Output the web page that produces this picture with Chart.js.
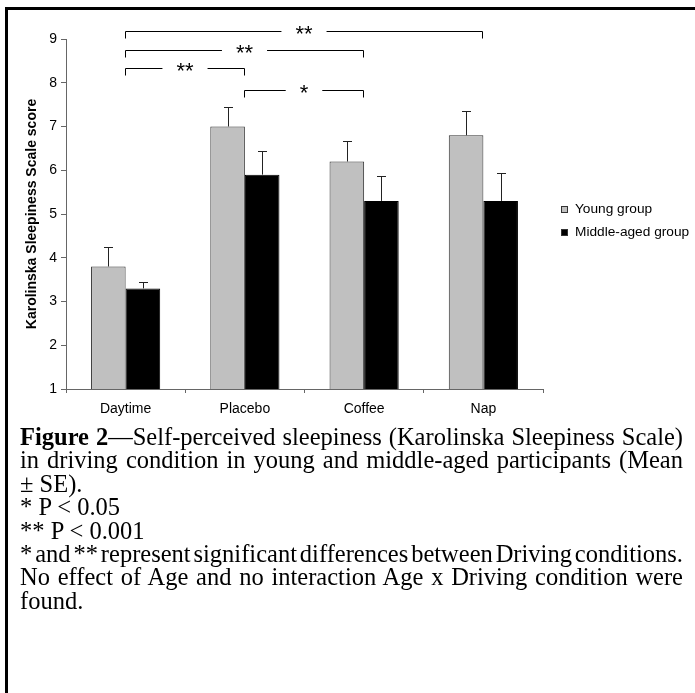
<!DOCTYPE html>
<html><head><meta charset="utf-8">
<script src="https://cdn.jsdelivr.net/npm/chart.js@4"></script>
<style>
html,body{margin:0;padding:0;background:#fff;}
body{width:695px;height:693px;position:relative;overflow:hidden;}
#frame{position:absolute;left:5px;top:7px;width:720px;height:720px;border-left:3px solid #000;border-top:3px solid #000;}
#wrap{position:absolute;left:0;top:0;width:695px;height:430px;}
#cap{position:absolute;left:20px;top:425px;width:663px;font-family:"Liberation Serif","Times New Roman",serif;font-size:24.5px;line-height:23.4px;color:#000;}
#cap div{white-space:nowrap;}
#cap .j{text-align:justify;text-align-last:justify;}
</style></head>
<body>
<div id="frame"></div>
<div id="wrap"><canvas id="c"></canvas></div>
<div id="cap">
<div class="j"><b>Figure 2</b>—Self-perceived sleepiness (Karolinska Sleepiness Scale)</div>
<div class="j">in driving condition in young and middle-aged participants (Mean</div>
<div>± SE).</div>
<div>* P &lt; 0.05</div>
<div>** P &lt; 0.001</div>
<div class="j">* and ** represent significant differences between Driving conditions.</div>
<div class="j">No effect of Age and no interaction Age x Driving condition were</div>
<div>found.</div>
</div>
<script>
const categories = ['Daytime', 'Placebo', 'Coffee', 'Nap'];
const seriesNames = ['Young group', 'Middle-aged group'];
const youngMeans = [3.8, 7.0, 6.2, 6.8];
const middleMeans = [3.3, 5.9, 5.3, 5.3];
const youngSE = [0.45, 0.45, 0.47, 0.55];
const middleSE = [0.15, 0.55, 0.58, 0.63];
const yTicks = [1, 2, 3, 4, 5, 6, 7, 8, 9];
const yTitle = 'Karolinska Sleepiness Scale score';
const bracketFrom = [0, 0, 0, 1];
const bracketTo = [3, 2, 1, 2];
const bracketLevel = [9.19, 8.76, 8.34, 7.84];
const bracketLabel = ['**', '**', '**', '*'];

// squeeze justified caption lines that are too long (as in the typeset original)
document.querySelectorAll('#cap .j').forEach(el => {
  const span = document.createElement('span');
  span.innerHTML = el.innerHTML;
  span.style.whiteSpace = 'nowrap';
  const probe = document.createElement('div');
  probe.style.cssText = 'position:absolute;visibility:hidden;white-space:nowrap;';
  probe.appendChild(span);
  document.getElementById('cap').appendChild(probe);
  const natural = span.getBoundingClientRect().width;
  probe.remove();
  const target = 663;
  if (natural > target) {
    const spaces = (el.textContent.match(/ /g) || []).length;
    const excess = natural - target + 1;
    let ws = Math.min(excess / spaces, 5);
    el.style.wordSpacing = (-ws) + 'px';
    const rest = excess - ws * spaces;
    if (rest > 0) el.style.letterSpacing = (-rest / el.textContent.length) + 'px';
  }
});

const SANS = '"Liberation Sans", Arial, sans-serif';
const seList = [youngSE, middleSE];
const fills = ['#c0c0c0', '#000000'];

const errorBars = {
  id: 'errorBars',
  afterDatasetsDraw(chart) {
    const ctx = chart.ctx, ys = chart.scales.y;
    ctx.save();
    ctx.strokeStyle = '#222';
    ctx.lineWidth = 1;
    chart.data.datasets.forEach((ds, i) => {
      const meta = chart.getDatasetMeta(i);
      meta.data.forEach((el, j) => {
        const x = Math.round(el.x) + 0.5;
        const top = Math.round(ys.getPixelForValue(ds.data[j] + seList[i][j])) + 0.5;
        const base = el.y;
        ctx.beginPath();
        ctx.moveTo(x, base);
        ctx.lineTo(x, top);
        ctx.moveTo(x - 4.5, top);
        ctx.lineTo(x + 4.5, top);
        ctx.stroke();
      });
    });
    ctx.restore();
  }
};

const brackets = {
  id: 'brackets',
  afterDraw(chart) {
    const ctx = chart.ctx, xs = chart.scales.x, ys = chart.scales.y;
    ctx.save();
    ctx.strokeStyle = '#000';
    ctx.fillStyle = '#000';
    ctx.lineWidth = 1;
    ctx.font = '22px ' + SANS;
    ctx.textAlign = 'center';
    ctx.textBaseline = 'alphabetic';
    bracketLabel.forEach((lab, k) => {
      const x1 = Math.round(xs.getPixelForValue(bracketFrom[k])) - 0.5;
      const x2 = Math.round(xs.getPixelForValue(bracketTo[k])) - 0.5;
      const y = Math.round(ys.getPixelForValue(bracketLevel[k])) + 0.5;
      const mid = (x1 + x2) / 2;
      const w = ctx.measureText(lab).width;
      const gap = w / 2 + 14;
      ctx.beginPath();
      ctx.moveTo(x1, y + 7);
      ctx.lineTo(x1, y);
      ctx.lineTo(mid - gap, y);
      ctx.moveTo(mid + gap, y);
      ctx.lineTo(x2, y);
      ctx.lineTo(x2, y + 7);
      ctx.stroke();
      ctx.fillText(lab, mid, y + 9);
    });
    ctx.restore();
  }
};

const legendDraw = {
  id: 'legendDraw',
  afterDraw(chart) {
    const ctx = chart.ctx;
    ctx.save();
    ctx.font = '13.7px ' + SANS;
    ctx.textBaseline = 'middle';
    ctx.textAlign = 'left';
    chart.data.datasets.forEach((ds, i) => {
      const cy = 209.5 + i * 23;
      ctx.fillStyle = ds.backgroundColor;
      ctx.fillRect(561, cy - 3.5, 7, 7);
      ctx.strokeStyle = '#333';
      ctx.lineWidth = 1;
      ctx.strokeRect(561.5, cy - 3, 6, 6);
      ctx.fillStyle = '#000';
      ctx.fillText(ds.label, 575, cy);
    });
    ctx.restore();
  }
};

new Chart(document.getElementById('c'), {
  type: 'bar',
  data: {
    labels: categories,
    datasets: [
      { label: seriesNames[0], data: youngMeans, backgroundColor: fills[0], borderColor: '#333', borderWidth: 1 },
      { label: seriesNames[1], data: middleMeans, backgroundColor: fills[1], borderColor: '#000', borderWidth: 1 }
    ]
  },
  options: {
    responsive: true,
    maintainAspectRatio: false,
    animation: false,
    devicePixelRatio: 1,
    categoryPercentage: 0.58,
    barPercentage: 1.0,
    layout: { padding: { left: 0, right: 152, top: 39, bottom: 11 } },
    plugins: { legend: { display: false }, tooltip: { enabled: false } },
    scales: {
      x: {
        grid: { drawOnChartArea: false, drawTicks: true, tickLength: 4, color: '#666', offset: true },
        border: { color: '#666', width: 1 },
        ticks: { color: '#000', font: { family: SANS, size: 14 }, padding: 8 },
        afterFit(s) { s.height = 30; }
      },
      y: {
        min: 1, max: 9,
        grid: { drawOnChartArea: false, drawTicks: true, tickLength: 5, color: '#666' },
        border: { color: '#666', width: 1 },
        ticks: { color: '#000', font: { family: SANS, size: 14 }, padding: 4, autoSkip: false },
        afterBuildTicks(s) { s.ticks = yTicks.map(v => ({ value: v })); },
        title: { display: true, text: yTitle, color: '#000', font: { family: SANS, size: 14, weight: 'bold' }, padding: { top: 24, bottom: 0 } },
        afterFit(s) { s.width = 66; }
      }
    }
  },
  plugins: [errorBars, brackets, legendDraw]
});
</script>
</body></html>
